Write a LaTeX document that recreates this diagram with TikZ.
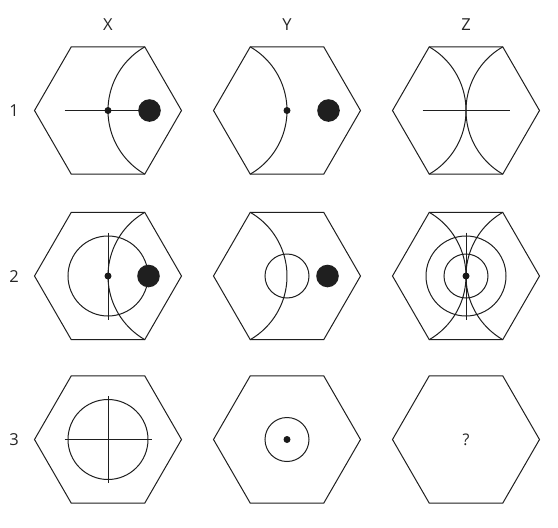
\documentclass[tikz,border=0pt]{standalone}
\usepackage{fontspec}
\setmainfont{Open Sans}
\tikzset{
  ln/.style={line width=1pt, draw=black!88},
  hexa/.style={ln, line join=miter},
  bigdot/.style={fill=black!88, draw=none},
  smalldot/.style={fill=black!90, draw=none},
  lbl/.style={font=\fontsize{16.5}{19}\selectfont, text=black!85, inner sep=0pt},
  qlbl/.style={font=\fontsize{16}{19}\selectfont, text=black!85, inner sep=0pt}
}
\newcommand\hexcell{\draw[hexa] (-73.5,0) -- (-36.75,-63.65) -- (36.75,-63.65) -- (73.5,0) -- (36.75,63.65) -- (-36.75,63.65) -- cycle;}
\newcommand\arcright{\draw[ln] (36.75,-63.65) arc[start angle=120, end angle=240, radius=73.5pt];}
\newcommand\arcleft{\draw[ln] (-36.75,-63.65) arc[start angle=60, end angle=-60, radius=73.5pt];}
\newcommand\sdot{\fill[smalldot] (0,0) circle[radius=3.5pt];}
\begin{document}
\begin{tikzpicture}[x=1pt, y=-1pt]
\useasboundingbox (0,0) rectangle (558,528);
\fill[white] (0,0) rectangle (558,528);
% column and row labels
\node[lbl] (lx) at (108,25) {X};
\node[lbl] (ly) at (287,25) {Y};
\node[lbl] (lz) at (466,25) {Z};
\node[lbl] (l1) at (14,110.5) {1};
\node[lbl] (l2) at (14,276.5) {2};
\node[lbl] (l3) at (14,440) {3};
% row 1
\begin{scope}[shift={(108,110.5)}]
  \hexcell \arcright
  \draw[ln] (-43.5,0) -- (41.5,0);
  \sdot
  \fill[bigdot] (41.5,0) circle[radius=11.3pt];
\end{scope}
\begin{scope}[shift={(287,110.5)}]
  \hexcell \arcleft
  \sdot
  \fill[bigdot] (41.5,0) circle[radius=11.3pt];
\end{scope}
\begin{scope}[shift={(466,110.5)}]
  \hexcell \arcleft \arcright
  \draw[ln] (-43.5,0) -- (43.5,0);
\end{scope}
% row 2
\begin{scope}[shift={(108,276)}]
  \hexcell \arcright
  \draw[ln] (0,0) circle[radius=40pt];
  \draw[ln] (0,-43.5) -- (0,43.5);
  \sdot
  \fill[bigdot] (40.5,0) circle[radius=11.3pt];
\end{scope}
\begin{scope}[shift={(287,276)}]
  \hexcell \arcleft
  \draw[ln] (0,0) circle[radius=22pt];
  \fill[bigdot] (40.5,0) circle[radius=11.3pt];
\end{scope}
\begin{scope}[shift={(466,276)}]
  \hexcell \arcleft \arcright
  \draw[ln] (0,0) circle[radius=40pt];
  \draw[ln] (0,0) circle[radius=22pt];
  \draw[ln] (0,-43.5) -- (0,43.5);
  \sdot
\end{scope}
% row 3
\begin{scope}[shift={(108,439.5)}]
  \hexcell
  \draw[ln] (0,0) circle[radius=40pt];
  \draw[ln] (-43.5,0) -- (43.5,0);
  \draw[ln] (0,-43.5) -- (0,43.5);
\end{scope}
\begin{scope}[shift={(287,439.5)}]
  \hexcell
  \draw[ln] (0,0) circle[radius=22pt];
  \sdot
\end{scope}
\begin{scope}[shift={(466,439.5)}]
  \hexcell
  \node[qlbl] (q) at (0,0) {?};
\end{scope}
\end{tikzpicture}
\end{document}
